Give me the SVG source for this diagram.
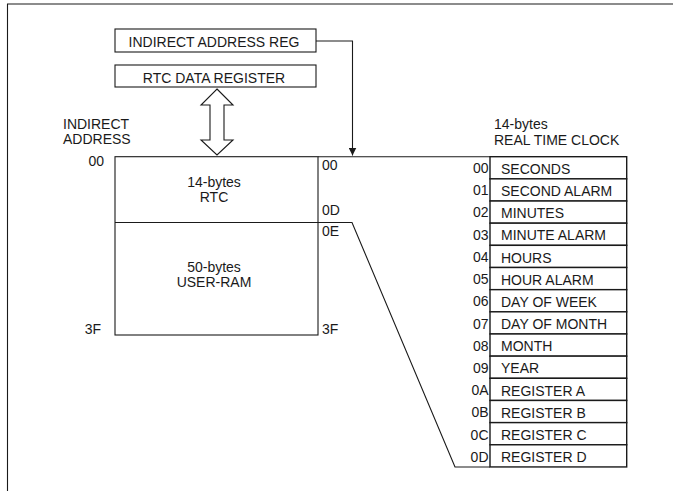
<svg xmlns="http://www.w3.org/2000/svg" width="673" height="491" viewBox="0 0 673 491">
<style>
text{font-family:"Liberation Sans",Arial,Helvetica,sans-serif;font-size:14px;fill:#1a1a1a}
.ln{fill:none;stroke:#1a1a1a;stroke-width:1.1}
.box{fill:#fff;stroke:#1a1a1a;stroke-width:1.1}
.row{fill:#fff;stroke:#1a1a1a;stroke-width:1.4}
.c{text-anchor:middle}
.r{text-anchor:end}
</style>
<defs>
<marker id="ah" viewBox="0 0 8 8" refX="8" refY="4" markerWidth="8" markerHeight="8" markerUnits="userSpaceOnUse" orient="auto">
<path d="M0,0 L8,4 L0,8 Z" fill="#1a1a1a"/>
</marker>
</defs>
<g id="frame">
<path class="ln" d="M7.5,491 V4 H673" stroke-width="1.5"/>
</g>
<g id="indirect-address-reg">
<rect class="box" x="115" y="29" width="201" height="23"/>
<text class="c" x="214" y="47">INDIRECT ADDRESS REG</text>
</g>
<g id="rtc-data-register">
<rect class="box" x="115" y="65" width="201" height="22"/>
<text class="c" x="214" y="83">RTC DATA REGISTER</text>
</g>
<g id="indirect-address-label">
<text x="63" y="129">INDIRECT</text>
<text x="63" y="144">ADDRESS</text>
<text class="r" x="104" y="166">00</text>
<text class="r" x="101" y="334">3F</text>
</g>
<g id="memory-map">
<rect class="box" x="115" y="156.7" width="203" height="178.3"/>
<line class="ln" x1="115" y1="222.5" x2="318" y2="222.5"/>
<text class="c" x="214" y="186.5">14-bytes</text>
<text class="c" x="214" y="202">RTC</text>
<text class="c" x="214" y="271.5">50-bytes</text>
<text class="c" x="214" y="286.5">USER-RAM</text>
<text x="322" y="170">00</text>
<text x="322" y="215">0D</text>
<text x="322" y="236">0E</text>
<text x="322" y="334">3F</text>
</g>
<g id="rtc-table">
<text x="494" y="129">14-bytes</text>
<text x="494" y="145">REAL TIME CLOCK</text>
<rect class="row" x="490" y="156.7" width="136.7" height="22.16"/>
<rect class="row" x="490" y="178.86" width="136.7" height="22.16"/>
<rect class="row" x="490" y="201.02" width="136.7" height="22.16"/>
<rect class="row" x="490" y="223.18" width="136.7" height="22.16"/>
<rect class="row" x="490" y="245.34" width="136.7" height="22.16"/>
<rect class="row" x="490" y="267.5" width="136.7" height="22.16"/>
<rect class="row" x="490" y="289.66" width="136.7" height="22.16"/>
<rect class="row" x="490" y="311.82" width="136.7" height="22.16"/>
<rect class="row" x="490" y="333.98" width="136.7" height="22.16"/>
<rect class="row" x="490" y="356.14" width="136.7" height="22.16"/>
<rect class="row" x="490" y="378.3" width="136.7" height="22.16"/>
<rect class="row" x="490" y="400.46" width="136.7" height="22.16"/>
<rect class="row" x="490" y="422.62" width="136.7" height="22.16"/>
<rect class="row" x="490" y="444.78" width="136.7" height="22.16"/>
<text x="501" y="173.5">SECONDS</text>
<text x="501" y="195.5">SECOND ALARM</text>
<text x="501" y="217.5">MINUTES</text>
<text x="501" y="240">MINUTE ALARM</text>
<text x="501" y="262.5">HOURS</text>
<text x="501" y="284.5">HOUR ALARM</text>
<text x="501" y="306.5">DAY OF WEEK</text>
<text x="501" y="329">DAY OF MONTH</text>
<text x="501" y="351">MONTH</text>
<text x="501" y="373">YEAR</text>
<text x="501" y="395.5">REGISTER A</text>
<text x="501" y="417.5">REGISTER B</text>
<text x="501" y="439.5">REGISTER C</text>
<text x="501" y="462">REGISTER D</text>
<text class="r" x="488.5" y="173">00</text>
<text class="r" x="488.5" y="195">01</text>
<text class="r" x="488.5" y="217">02</text>
<text class="r" x="488.5" y="239.5">03</text>
<text class="r" x="488.5" y="262">04</text>
<text class="r" x="488.5" y="284">05</text>
<text class="r" x="488.5" y="306">06</text>
<text class="r" x="488.5" y="328.5">07</text>
<text class="r" x="488.5" y="350.5">08</text>
<text class="r" x="488.5" y="373">09</text>
<text class="r" x="488.5" y="395">0A</text>
<text class="r" x="488.5" y="417">0B</text>
<text class="r" x="488.5" y="439.5">0C</text>
<text class="r" x="488.5" y="461.5">0D</text>
</g>
<g id="connectors">
<path class="ln" d="M316,41 H352.5 V155.5" marker-end="url(#ah)"/>
<line class="ln" x1="318" y1="156.7" x2="490" y2="156.7"/>
<path class="ln" d="M318,222.5 H352 L455,467 H490"/>
<path class="box" d="M217,89 L233,105 H224 V140 H233 L217,155 L201,140 H210 V105 H201 Z"/>
</g>
</svg>
